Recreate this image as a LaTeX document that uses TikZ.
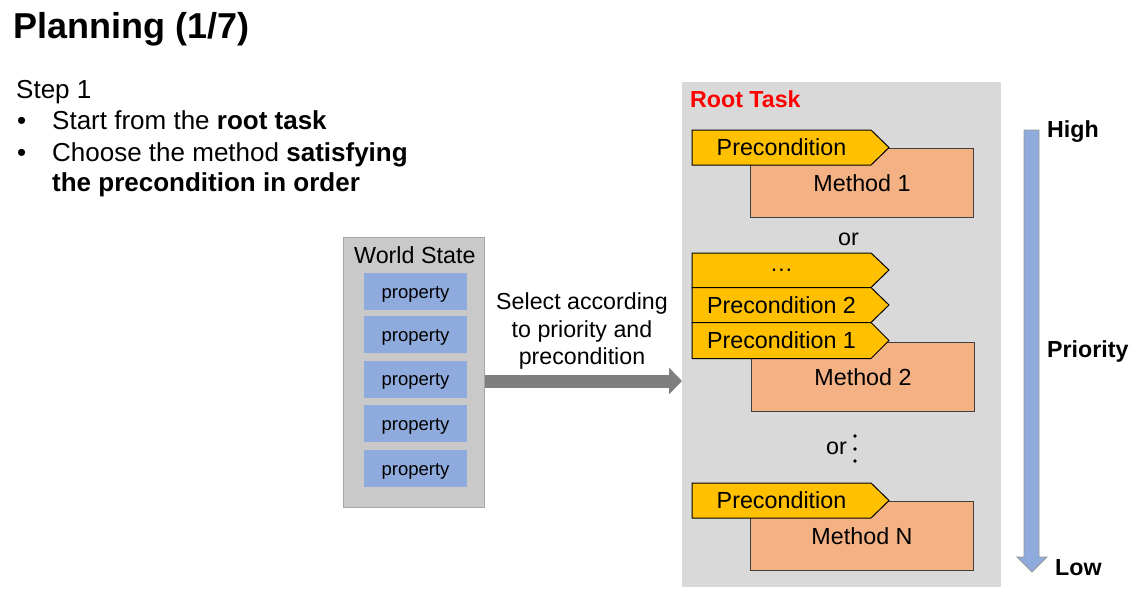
\documentclass[tikz,border=0pt]{standalone}
\usepackage{fontspec}
\setmainfont{Liberation Sans}
\usetikzlibrary{arrows.meta}
\definecolor{tagfill}{HTML}{FFC000}
\definecolor{methfill}{HTML}{F4B183}
\definecolor{propfill}{HTML}{8FAADC}
\definecolor{panelfill}{HTML}{D9D9D9}
\definecolor{wsfill}{HTML}{C9C9C9}
\definecolor{arrgray}{HTML}{7F7F7F}
\definecolor{rootred}{HTML}{FF0000}
\tikzset{
  txt/.style={inner sep=0pt, anchor=base west},
  body/.style={font=\fontsize{26}{30}\selectfont},
  mid/.style={font=\fontsize{23.3}{27}\selectfont},
  midbold/.style={font=\bfseries\fontsize{23.2}{27}\selectfont},
  panel/.style={fill=panelfill, draw=none, anchor=north west, inner sep=0pt},
  wspanel/.style={fill=wsfill, draw=gray!70, line width=0.8pt, anchor=north west, inner sep=0pt},
  prop/.style={fill=propfill, draw=none, minimum width=103pt, minimum height=37pt, inner sep=0pt, text height=13.6pt, text depth=0pt, font=\fontsize{18.5}{21}\selectfont},
  methodbox/.style={fill=methfill, draw=black!75, line width=1pt, anchor=north west, minimum width=223pt, minimum height=69pt, inner sep=0pt, mid},
  tagshape/.style={fill=tagfill, draw=black, line width=1pt, line join=miter},
  tagtext/.style={inner sep=0pt, mid},
  bigarrow/.style={draw=arrgray, line width=13pt, -{Triangle[length=13pt,width=26pt]}},
  prioarrow/.style={fill=propfill, draw=gray!80, line width=0.8pt},
}
\begin{document}
\begin{tikzpicture}[x=1pt,y=-1pt]
\useasboundingbox (0,0) rectangle (1136,595);
\fill[white] (0,0) rectangle (1136,595);

% title and bullets
\node[txt, font=\bfseries\fontsize{36}{42}\selectfont] (title) at (13,38) {Planning (1/7)};
\node[txt, body] (step) at (16,98) {Step 1};
\node[txt, body] (b1) at (17,129) {•};
\node[txt, body] (l1) at (52,129) {Start from the \textbf{root task}};
\node[txt, body] (b2) at (17,161) {•};
\node[txt, body] (l2) at (52,161) {Choose the method \textbf{satisfying}};
\node[txt, body] (l3) at (52,191) {\textbf{the precondition in order}};

% world state
\node[wspanel, minimum width=141pt, minimum height=270pt] (ws) at (343,237) {};
\node[txt, mid] (wst) at (354,263) {World State};
\node[prop] (p1) at (415.5,291.5) {property};
\node[prop] (p2) at (415.5,334.5) {property};
\node[prop] (p3) at (415.5,379) {property};
\node[prop] (p4) at (415.5,423.5) {property};
\node[prop] (p5) at (415.5,468.5) {property};

% root task panel
\node[panel, minimum width=319pt, minimum height=505pt] (root) at (682,82) {};
\node[txt, midbold, text=rootred] (rt) at (690,107) {Root Task};

% arrow from world state to root task
\coordinate (ay) at (0,381);
\draw[bigarrow] (ws.east |- ay) -- (root.west |- ay);
\node[align=center, inner sep=0pt, font=\fontsize{23.2}{27.5}\selectfont] (sel) at (582,331) {Select according\\to priority and\\precondition};

% method 1
\node[methodbox] (m1) at (750,148) {Method 1};
\draw[tagshape] (692,130) -- (871,130) -- (889,147.5) -- (871,165) -- (692,165) -- cycle;
\node[tagtext] (t1) at (781.5,147.5) {Precondition};

\node[txt, mid] (or1) at (838,245) {or};

% method 2
\node[methodbox] (m2) at (751,342) {Method 2};
\draw[tagshape] (692,253) -- (871,253) -- (889,270) -- (871,287.5) -- (692,287.5) -- cycle;
\node[tagtext] (t2c) at (781.5,270) {\dots};
\draw[tagshape] (692,287.5) -- (871,287.5) -- (889,305) -- (871,322.5) -- (692,322.5) -- cycle;
\node[tagtext] (t2b) at (781.5,305) {Precondition 2};
\draw[tagshape] (692,322.5) -- (871,322.5) -- (889,340.5) -- (871,358.5) -- (692,358.5) -- cycle;
\node[tagtext] (t2a) at (781.5,340.5) {Precondition 1};

\node[txt, mid] (or2) at (826,454) {or};
\fill (855,436) circle (1.8pt);
\fill (855,449) circle (1.8pt);
\fill (855,461) circle (1.8pt);

% method N
\node[methodbox] (mn) at (750,501) {Method N};
\draw[tagshape] (692,483) -- (871,483) -- (889,500.5) -- (871,518) -- (692,518) -- cycle;
\node[tagtext] (tn) at (781.5,500.5) {Precondition};

% priority arrow
\draw[prioarrow] (1024,130) -- (1039,130) -- (1039,557) -- (1047,557) -- (1032,572) -- (1017,557) -- (1024,557) -- cycle;
\node[txt, midbold] (high) at (1047,137) {High};
\node[txt, midbold] (prio) at (1047,357) {Priority};
\node[txt, midbold] (low) at (1055,575) {Low};
\end{tikzpicture}
\end{document}
